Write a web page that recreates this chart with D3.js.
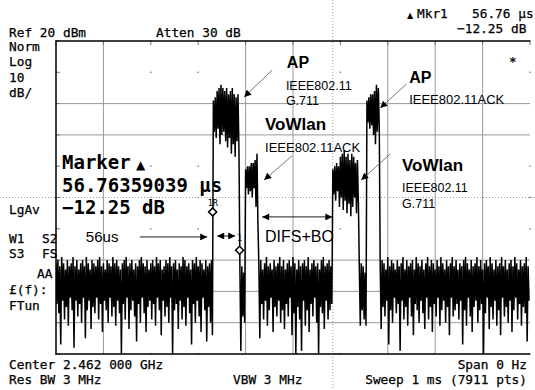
<!DOCTYPE html>
<html>
<head>
<meta charset="utf-8">
<script src="https://cdn.jsdelivr.net/npm/d3@7"></script>
<style>
body { margin: 0; background: #fff; }
svg text { fill: #000; white-space: pre; }
.mono { font-family: "DejaVu Sans Mono", monospace; font-size: 12.8px; stroke: #000; stroke-width: 0.25px; }
.big  { font-family: "DejaVu Sans Mono", monospace; font-size: 19px; font-weight: bold; }
.sans { font-family: "Liberation Sans", Arial, sans-serif; }
</style>
</head>
<body>
<div id="chart"></div>
<script>
//Sweep settings
var sweepTime = 1000;      // us
var sampleStep = 4;        // us per display column
var refLevel = 20;         // dBm
var dbPerDiv = 10;

//Column max / min of the trace in dBm, one pair every 4 us
var traceHi = [
    // noise, 0..328 us
    -51,-50,-52,-49,-51,-53,-50,-52,-51,-49,
    -52,-50,-53,-51,-50,-52,-49,-51,-53,-50,
    -51,-52,-50,-49,-52,-51,-53,-50,-51,-52,
    -49,-51,-50,-52,-53,-51,-50,-49,-52,-51,
    -50,-53,-51,-52,-50,-49,-51,-52,-50,-53,
    -51,-50,-52,-49,-51,-50,-53,-52,-50,-51,
    -49,-52,-51,-50,-53,-51,-52,-49,-50,-52,
    -51,-53,-50,-51,-49,-52,-50,-51,-53,-50,
    -52,-51,-50,
    // AP data burst, 332..384 us
    1, 2, 4, 5, 6, 5, 4, 5, 3, 4, 5, 3, 2, 3,
    // SIFS
    -53,-52,-54,
    // VoWlan ACK, 400..424 us
    -21,-20,-20,-19,-19,-18,-16,
    // noise, 428..580 us
    -52,-50,-53,-51,-49,-52,-51,-53,-50,-52,
    -51,-49,-52,-50,-53,-51,-50,-52,-49,-51,
    -53,-50,-52,-51,-50,-52,-49,-53,-51,-50,
    -52,-51,-53,-50,-49,-52,-51,-50,-52,
    // VoWlan data burst, 584..636 us
    -21,-20,-19,-20,-17,-16,-15,-17,-16,-18,-16,-17,-19,-18,
    // SIFS
    -53,-51,-52,-54,
    // AP ACK, 656..680 us
    1, 2, 3, 3, 4, 6, 5,
    // noise, 684..996 us
    -52,-50,-51,-53,-49,-52,-50,-51,-53,-50,
    -52,-51,-49,-53,-50,-52,-51,-50,-53,-49,
    -51,-52,-50,-53,-51,-49,-52,-50,-51,-53,
    -50,-52,-49,-51,-53,-50,-52,-51,-49,-52,
    -50,-53,-51,-52,-50,-49,-51,-53,-50,-52,
    -51,-49,-52,-50,-53,-51,-50,-52,-49,-51,
    -53,-50,-52,-51,-49,-52,-50,-53,-51,-50,
    -52,-49,-51,-53,-50,-52,-51,-49,-52
];
var traceLo = [
    -64,-67,-77,-63,-69,-65,-71,-62,-66,-78,
    -63,-68,-64,-70,-62,-75,-66,-63,-72,-65,
    -67,-62,-69,-64,-73,-63,-66,-70,-62,-68,
    -65,-71,-63,-67,-80,-64,-69,-62,-72,-66,
    -63,-68,-76,-64,-70,-62,-67,-73,-65,-63,
    -69,-64,-71,-62,-66,-74,-63,-68,-65,-70,
    -62,-80,-66,-64,-72,-63,-69,-65,-71,-62,
    -67,-77,-64,-70,-63,-68,-73,-62,-66,-76,
    -65,-70,-74,
    -9,-11,-8,-13,-10,-9,-12,-14,-11,-16,-13,-17,-12,-15,
    -79,-68,-70,
    -27,-29,-28,-30,-27,-33,-38,
    -75,-64,-69,-63,-71,-66,-62,-73,-65,-68,
    -63,-70,-66,-72,-64,-68,-62,-74,-67,-80,
    -65,-69,-79,-63,-71,-66,-73,-64,-68,-62,
    -70,-80,-65,-67,-72,-63,-69,-66,-64,
    -29,-31,-28,-33,-30,-34,-31,-35,-32,-36,-33,-30,-35,-32,
    -71,-66,-69,-71,
    -6,-8,-7,-10,-13,-9,-7,
    -72,-65,-68,-63,-77,-66,-70,-62,-67,-64,
    -79,-63,-69,-65,-71,-62,-68,-74,-64,-66,
    -70,-63,-67,-72,-62,-69,-65,-73,-64,-68,
    -62,-71,-66,-63,-70,-65,-74,-62,-68,-66,
    -64,-69,-63,-77,-66,-71,-62,-68,-73,-65,
    -63,-70,-66,-64,-80,-67,-62,-72,-65,-69,
    -63,-71,-66,-74,-62,-68,-65,-70,-63,-73,
    -66,-62,-69,-64,-71,-65,-67,-76,-63
];

//Delta marker pair (time us, level dBm)
var markerTime  = [330.5, 387.26];
var markerLevel = [-34.6, -46.85];
var markerName  = ["1R", "1"];

var displayLine = -30;     // dBm
var burstStart = 584;      // us, dotted guide

var width = 535, height = 390;
var plot = {left: 56, right: 530, top: 41, bottom: 354};

var x = d3.scaleLinear().domain([0, sweepTime]).range([plot.left, plot.right]);
var y = d3.scaleLinear().domain([refLevel - 10 * dbPerDiv, refLevel]).range([plot.bottom, plot.top]);

var svg = d3.select("#chart").append("svg")
    .attr("width", width)
    .attr("height", height)
    .style("display", "block");

var defs = svg.append("defs");
defs.append("clipPath").attr("id", "clip")
    .append("rect")
    .attr("x", plot.left).attr("y", plot.top)
    .attr("width", plot.right - plot.left).attr("height", plot.bottom - plot.top);
defs.append("marker")
    .attr("id", "head")
    .attr("viewBox", "0 0 10 10")
    .attr("refX", 10).attr("refY", 5)
    .attr("markerWidth", 9).attr("markerHeight", 7)
    .attr("markerUnits", "userSpaceOnUse")
    .attr("orient", "auto-start-reverse")
    .append("path").attr("d", "M0,0L10,5L0,10z").attr("fill", "#000");

//Graticule: some divisions drawn as lines, the rest only as dots
var xDivs = x.ticks(10), yDivs = y.ticks(10);
var solidX = [100, 400, 500, 700, 800, 900];
var solidY = [0, -10, -50, -60, -70];
var grid = svg.append("g");

grid.selectAll(".vx").data(xDivs.filter(function(d) { return solidX.indexOf(d) >= 0; }))
    .enter().append("line")
    .attr("x1", x).attr("x2", x).attr("y1", plot.top).attr("y2", plot.bottom)
    .attr("stroke", "#999").attr("stroke-width", 1);
grid.selectAll(".hy").data(yDivs.filter(function(d) { return solidY.indexOf(d) >= 0; }))
    .enter().append("line")
    .attr("x1", plot.left).attr("x2", plot.right).attr("y1", y).attr("y2", y)
    .attr("stroke", "#999").attr("stroke-width", 1);

var dots = [];
xDivs.forEach(function(a) {
    yDivs.forEach(function(b) {
        if (solidX.indexOf(a) < 0 && solidY.indexOf(b) < 0) dots.push([a, b]);
    });
});
grid.selectAll(".dot").data(dots).enter().append("rect")
    .attr("x", function(d) { return x(d[0]) - 0.75; })
    .attr("y", function(d) { return y(d[1]) - 0.75; })
    .attr("width", 1.5).attr("height", 1.5)
    .attr("fill", "#888");

//Border ticks
grid.selectAll(".lt").data(yDivs).enter().append("line")
    .attr("x1", plot.left).attr("x2", plot.left + 4).attr("y1", y).attr("y2", y)
    .attr("stroke", "#777");
grid.selectAll(".tt").data(xDivs).enter().append("line")
    .attr("x1", x).attr("x2", x).attr("y1", plot.top).attr("y2", plot.top + 4)
    .attr("stroke", "#777");

//Display line and guide, both run past the graticule
svg.append("line")
    .attr("x1", 0).attr("x2", width).attr("y1", y(displayLine)).attr("y2", y(displayLine))
    .attr("stroke", "#999").attr("stroke-dasharray", "1,2");
svg.append("line")
    .attr("x1", x(burstStart)).attr("x2", x(burstStart)).attr("y1", 0).attr("y2", height)
    .attr("stroke", "#999").attr("stroke-dasharray", "1,2");

//Trace: zig-zag between column max and min
var pts = [];
traceHi.forEach(function(h, i) {
    pts.push([x(i * sampleStep), y(h)]);
    pts.push([x(i * sampleStep + sampleStep / 2), y(traceLo[i])]);
});
svg.append("path")
    .attr("clip-path", "url(#clip)")
    .attr("d", d3.line()(pts))
    .attr("fill", "none")
    .attr("stroke", "#000")
    .attr("stroke-width", 1.5);

//Graticule border (left, top, bottom)
svg.append("path")
    .attr("d", "M" + plot.right + "," + plot.top + "H" + plot.left + "V" + plot.bottom + "H" + plot.right)
    .attr("fill", "none").attr("stroke", "#000").attr("stroke-width", 1.5);

//Instrument annotations
var monoText = [
    ["Ref 20 dBm", 9, 37], ["Atten 30 dB", 156, 37],
    ["Norm", 9, 51], ["Log", 9, 66], ["10", 9, 82], ["dB/", 9, 97],
    ["Mkr1", 417, 18], ["56.76 \u00b5s", 472, 18], ["\u221212.25 dB", 457, 33], ["*", 509, 66],
    ["LgAv", 9, 214], ["W1", 9, 243], ["S2", 42, 243], ["S3", 9, 258], ["FS", 42, 258],
    ["AA", 37, 278], ["\u00a3(f):", 9, 294], ["FTun", 9, 310],
    ["Center 2.462 000 GHz", 9, 369], ["Res BW 3 MHz", 9, 384], ["VBW 3 MHz", 233, 384]
];
svg.selectAll(".mono-t").data(monoText).enter().append("text")
    .attr("class", "mono")
    .attr("x", function(d) { return d[1]; })
    .attr("y", function(d) { return d[2]; })
    .text(function(d) { return d[0]; });
svg.append("text").attr("class", "mono").attr("x", 527).attr("y", 369)
    .attr("text-anchor", "end").text("Span 0 Hz");
svg.append("text").attr("class", "mono").attr("x", 527).attr("y", 384)
    .attr("text-anchor", "end").text("Sweep 1 ms (7911 pts)");
svg.append("text").attr("x", 407).attr("y", 18)
    .style("font-family", "DejaVu Sans").style("font-size", "8px").text("\u25b2");

//Big marker readout
var bigText = [["Marker", 169], ["56.76359039 \u00b5s", 192], ["\u221212.25 dB", 214]];
svg.selectAll(".big-t").data(bigText).enter().append("text")
    .attr("class", "big")
    .attr("x", 62)
    .attr("y", function(d) { return d[1]; })
    .text(function(d) { return d[0]; });
svg.append("text").attr("x", 136).attr("y", 169)
    .style("font-family", "DejaVu Sans").style("font-size", "12px").text("\u25b2");

//Markers
var mk = svg.append("g");
mk.selectAll("path").data(markerTime).enter().append("path")
    .attr("d", d3.symbol(d3.symbolSquare, 32))
    .attr("transform", function(d, i) {
        return "translate(" + x(d) + "," + y(markerLevel[i]) + ") rotate(45)";
    })
    .attr("fill", "#fff").attr("stroke", "#000").attr("stroke-width", 1.5);
mk.selectAll("text").data(markerName).enter().append("text")
    .attr("x", function(d, i) { return x(markerTime[i]) - (i ? 2.5 : 5); })
    .attr("y", function(d, i) { return y(markerLevel[i]) - (i ? 9 : 6); })
    .style("font-family", "DejaVu Sans Mono").style("font-size", "8.5px")
    .text(function(d) { return d; });
mk.append("line")
    .attr("x1", x(markerTime[1])).attr("x2", x(markerTime[1]))
    .attr("y1", y(markerLevel[1]) - 8).attr("y2", y(markerLevel[1]) - 4)
    .attr("stroke", "#000");

//Callouts, placed in trace units (us, dBm)
var labels = [
    ["AP", 487, 11.4, 16, "bold"], ["IEEE802.11", 485, 4.3, 12.5, "normal"], ["G.711", 485, -0.4, 12.5, "normal"],
    ["VoWlan", 441, -8.4, 17, "bold"], ["IEEE802.11ACK", 441, -15.5, 13, "normal"],
    ["AP", 745, 6.6, 16, "bold"], ["IEEE802.11ACK", 745, -0.1, 13, "normal"],
    ["VoWlan", 730, -21.5, 17, "bold"], ["IEEE802.11", 730, -28.4, 12.5, "normal"], ["G.711", 730, -33.2, 12.5, "normal"],
    ["DIFS+BO", 441, -44.2, 16, "normal"], ["56us", 63, -44.2, 15, "normal"]
];
svg.selectAll(".lab").data(labels).enter().append("text")
    .attr("class", "sans")
    .attr("x", function(d) { return x(d[1]); })
    .attr("y", function(d) { return y(d[2]); })
    .style("font-size", function(d) { return d[3] + "px"; })
    .style("font-weight", function(d) { return d[4]; })
    .text(function(d) { return d[0]; });

var pointers = [
    [456, 10.7, 397, 2.1], [740, 6.3, 684, -1.4],
    [498, -16.7, 439, -24.4], [705, -16.1, 644, -24.4]
];
svg.selectAll(".ptr").data(pointers).enter().append("line")
    .attr("x1", function(d) { return x(d[0]); }).attr("y1", function(d) { return y(d[1]); })
    .attr("x2", function(d) { return x(d[2]); }).attr("y2", function(d) { return y(d[3]); })
    .attr("stroke", "#555").attr("stroke-width", 0.8)
    .attr("marker-end", "url(#head)");

//Timing arrows: [from, to, level, both ends]
var spans = [[177, 319, -42.6, false], [340, 378, -42.3, true], [435, 583, -36.2, true]];
svg.selectAll(".span").data(spans).enter().append("line")
    .attr("x1", function(d) { return x(d[0]); }).attr("x2", function(d) { return x(d[1]); })
    .attr("y1", function(d) { return y(d[2]); }).attr("y2", function(d) { return y(d[2]); })
    .attr("stroke", "#000").attr("stroke-width", 0.9)
    .attr("marker-end", "url(#head)")
    .attr("marker-start", function(d) { return d[3] ? "url(#head)" : null; });
</script>
</body>
</html>
